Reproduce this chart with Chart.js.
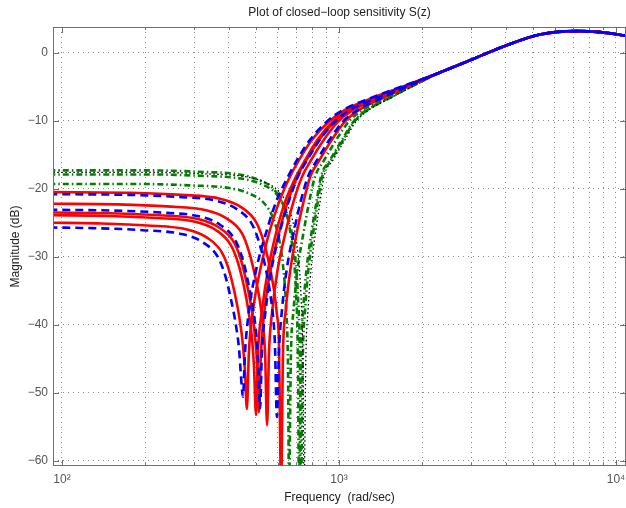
<!DOCTYPE html>
<html>
<head>
<meta charset="utf-8">
<script src="https://cdn.jsdelivr.net/npm/chart.js@4.4.0/dist/chart.umd.min.js"></script>
<style>
  html, body { margin: 0; padding: 0; background: #fff; }
</style>
</head>
<body>
<canvas id="chart" width="626" height="508"></canvas>
<script>
// axis ticks
const xTicks = [100, 200, 300, 400, 500, 600, 700, 800, 900,
                1000, 2000, 3000, 4000, 5000, 6000, 7000, 8000, 9000, 10000];
const xLabels = { 100: '10\u00b2', 1000: '10\u00b3', 10000: '10\u2074' };
const yTicks = [-60, -50, -40, -30, -20, -10, 0];

// high frequency part, every curve ends on it  [rad/s, dB]
const tail = [[2315, -2.9], [2972, -1.1], [3909, 0.9], [5317, 2.7], [7233, 3.2],
              [8750, 3.05], [10870, 2.5], [12000, 2.2]];

// blue dashed curves
const blue1 = [[90, -25.7], [129, -25.8], [196, -26.1], [273, -26.7], [323, -27.9], [366, -30.1],
  [388, -32.7], [407, -36.2], [425, -40.2], [436, -43.7], [443, -47.7], [450, -50.6],
  [458, -44], [473, -38], [502, -32], [550, -26], [592, -22], [655, -18.2], [705, -15.8],
  [786, -12.8], [905, -10.1], [1034, -8.4], [1294, -6.7], [1702, -4.9]];
const blue2 = [[90, -23.1], [149, -23.2], [226, -23.5], [315, -24.1], [372, -25.3], [421, -27.5],
  [447, -30.1], [469, -33.6], [489, -37.6], [502, -41.1], [510, -45.1], [519, -52.3],
  [527, -44], [543, -38], [570, -32], [615, -26], [657, -22], [711, -18.2], [767, -15.8],
  [853, -12.8], [968, -10.1], [1099, -8.4], [1355, -6.7], [1741, -4.9]];
const blue3 = [[90, -20.8], [172, -20.9], [260, -21.2], [363, -21.8], [428, -23.0], [485, -25.2],
  [514, -27.8], [541, -31.3], [564, -35.3], [578, -38.8], [587, -42.8], [597, -53.6],
  [607, -44], [622, -38], [647, -32], [690, -26], [726, -22], [773, -18.2], [833, -15.8],
  [924, -12.8], [1035, -10.1], [1171, -8.4], [1418, -6.7], [1777, -4.9]];

// red solid curves
const red1 = [[90, -25.0], [134, -25.1], [203, -25.4], [283, -26.0], [334, -27.2], [378, -29.4],
  [401, -32.0], [421, -35.5], [439, -39.5], [450, -43.0], [458, -47.0], [465, -52.4],
  [473, -44], [489, -38], [519, -32], [564, -26], [607, -22], [666, -18.2], [717, -15.8],
  [799, -12.8], [920, -10.1], [1051, -8.4], [1305, -6.7], [1716, -4.9]];
const red2 = [[90, -23.9], [144, -24.0], [218, -24.3], [305, -24.9], [360, -26.1], [407, -28.3],
  [432, -30.9], [454, -34.4], [473, -38.4], [485, -41.9], [493, -45.9], [502, -53.3],
  [510, -44], [527, -38], [554, -32], [597, -26], [638, -22], [700, -18.2], [754, -15.8],
  [836, -12.8], [951, -10.1], [1078, -8.4], [1338, -6.7], [1731, -4.9]];
const red3 = [[90, -23.5], [148, -23.6], [224, -23.9], [312, -24.5], [369, -25.7], [418, -27.9],
  [443, -30.5], [465, -34.0], [485, -38.0], [497, -41.5], [506, -45.5], [514, -52.9],
  [523, -44], [538, -38], [566, -32], [612, -26], [652, -22], [708, -18.2], [763, -15.8],
  [848, -12.8], [964, -10.1], [1094, -8.4], [1351, -6.7], [1738, -4.9]];
const red4 = [[90, -22.2], [158, -22.3], [239, -22.6], [334, -23.2], [394, -24.4], [447, -26.6],
  [473, -29.2], [497, -32.7], [519, -36.7], [532, -40.2], [541, -44.2], [550, -54.8],
  [559, -44], [574, -38], [600, -32], [645, -26], [684, -22], [736, -18.2], [793, -15.8],
  [882, -12.8], [995, -10.1], [1125, -8.4], [1380, -6.7], [1758, -4.9]];
const red5 = [[90, -20.5], [177, -20.6], [269, -20.9], [375, -21.5], [443, -22.7], [502, -24.9],
  [532, -27.5], [559, -31.0], [583, -35.0], [597, -38.5], [607, -42.5], [618, -64],
  [628, -44], [642, -38], [667, -32], [708, -26], [744, -22], [788, -18.2], [850, -15.8],
  [942, -12.8], [1052, -10.1], [1183, -8.4], [1434, -6.7], [1788, -4.9]];

// green dash-dot curves
const greenA = [[90, -19.3], [190, -19.3], [287, -19.5], [401, -19.9], [473, -20.7], [536, -22.1],
  [578, -24.3], [607, -27.3], [628, -31.3], [644, -37.3], [655, -47.3], [660, -64],
  [671, -44], [685, -38], [708, -32], [748, -26], [780, -22], [820, -18.2], [884, -15.8],
  [978, -12.8], [1086, -10.1], [1217, -8.4], [1467, -6.7], [1811, -4.9]];
const greenB = [[90, -17.3], [206, -17.3], [312, -17.5], [436, -17.9], [514, -18.7], [583, -20.1],
  [628, -22.3], [660, -25.3], [682, -29.3], [700, -35.3], [711, -45.3], [717, -64],
  [729, -44], [742, -38], [763, -32], [799, -26], [829, -22], [861, -18.2], [928, -15.8],
  [1026, -12.8], [1129, -10.1], [1261, -8.4], [1506, -6.7], [1835, -4.9]];
const greenC = [[90, -17.9], [210, -17.9], [318, -18.1], [443, -18.5], [523, -19.3], [592, -20.7],
  [638, -22.9], [671, -25.9], [694, -29.9], [711, -35.9], [723, -45.9], [729, -64],
  [741, -44], [754, -38], [775, -32], [810, -26], [838, -22], [870, -18.2], [937, -15.8],
  [1036, -12.8], [1138, -10.1], [1269, -8.4], [1516, -6.7], [1838, -4.9]];

// black dotted curve
const black1 = [[90, -17.6], [215, -17.6], [326, -17.8], [454, -18.2], [536, -19.0], [607, -20.4],
  [655, -22.6], [688, -25.6], [711, -29.6], [729, -35.6], [741, -45.6], [748, -64],
  [760, -44], [773, -38], [792, -32], [826, -26], [854, -22], [883, -18.2], [951, -15.8],
  [1051, -12.8], [1152, -10.1], [1283, -8.4], [1528, -6.7], [1850, -4.9]];

const styles = {
  blue:  { borderColor: '#0000ff', borderWidth: 2.6, borderDash: [8, 5] },
  red:   { borderColor: '#ff0000', borderWidth: 2.6, borderDash: [] },
  black: { borderColor: '#000000', borderWidth: 1.3, borderDash: [1.5, 2.5] },
  green: { borderColor: '#008000', borderWidth: 2.6, borderDash: [6, 3, 1.5, 3] }
};

// first dataset is painted on top
const curves = [
  [blue1, 'blue'], [blue2, 'blue'], [blue3, 'blue'],
  [red1, 'red'], [red2, 'red'], [red3, 'red'], [red4, 'red'], [red5, 'red'],
  [black1, 'black'],
  [greenA, 'green'], [greenB, 'green'], [greenC, 'green']
];

const datasets = curves.map(([pts, kind]) => Object.assign({
  data: pts.concat(tail).map(([x, y]) => ({ x, y })),
  pointRadius: 0,
  fill: false,
  cubicInterpolationMode: 'monotone',
  borderCapStyle: 'butt'
}, styles[kind]));

const fontFam = '"Liberation Sans", Arial, Helvetica, sans-serif';

// matlab style box, inner ticks and the title
const frame = {
  id: 'frame',
  afterDatasetsDraw(chart) {
    const { ctx, chartArea: a, scales: { x, y } } = chart;
    ctx.save();
    ctx.strokeStyle = '#707070';
    ctx.lineWidth = 1;
    ctx.strokeRect(a.left + 0.5, a.top + 0.5, a.right - a.left - 1, a.bottom - a.top - 1);
    ctx.beginPath();
    xTicks.forEach(v => {
      const px = Math.round(x.getPixelForValue(v)) + 0.5;
      const len = xLabels[v] ? 6 : 3;
      ctx.moveTo(px, a.bottom); ctx.lineTo(px, a.bottom - len);
      ctx.moveTo(px, a.top); ctx.lineTo(px, a.top + len);
    });
    yTicks.forEach(v => {
      const py = Math.round(y.getPixelForValue(v)) + 0.5;
      ctx.moveTo(a.left, py); ctx.lineTo(a.left + 6, py);
      ctx.moveTo(a.right, py); ctx.lineTo(a.right - 6, py);
    });
    ctx.stroke();
    ctx.fillStyle = '#222';
    ctx.font = '12px ' + fontFam;
    ctx.textAlign = 'center';
    ctx.textBaseline = 'middle';
    ctx.fillText('Plot of closed\u2212loop sensitivity S(z)', (a.left + a.right) / 2, 13);
    ctx.restore();
  }
};

new Chart(document.getElementById('chart'), {
  type: 'line',
  data: { datasets },
  plugins: [frame],
  options: {
    responsive: false,
    animation: false,
    devicePixelRatio: 1,
    layout: { padding: { top: 27, right: 0, left: 0, bottom: 0 } },
    plugins: { legend: { display: false }, tooltip: { enabled: false }, title: { display: false } },
    scales: {
      x: {
        type: 'logarithmic',
        min: 92.8,
        max: 10870,
        afterBuildTicks: s => { s.ticks = xTicks.map(v => ({ value: v })); },
        afterFit: s => { s.height = 42; s.paddingLeft = 0; s.paddingRight = 0; },
        ticks: {
          autoSkip: false,
          maxRotation: 0,
          padding: 6,
          color: '#555',
          font: { family: fontFam, size: 12 },
          callback: v => xLabels[v] || ''
        },
        grid: { color: '#8a8a8a', drawTicks: false, lineWidth: 1 },
        border: { display: false, dash: [1, 4] },
        title: {
          display: true,
          text: 'Frequency  (rad/sec)',
          color: '#222',
          font: { family: fontFam, size: 12 },
          padding: { top: 0, bottom: 3 }
        }
      },
      y: {
        type: 'linear',
        min: -60.8,
        max: 3.8,
        afterBuildTicks: s => { s.ticks = yTicks.map(v => ({ value: v })); },
        afterFit: s => { s.width = 53; s.paddingTop = 0; s.paddingBottom = 0; },
        ticks: {
          padding: 5,
          color: '#555',
          font: { family: fontFam, size: 12 },
          callback: v => (v < 0 ? '\u2212' + Math.abs(v) : String(v))
        },
        grid: { color: '#8a8a8a', drawTicks: false, lineWidth: 1 },
        border: { display: false, dash: [1, 4] },
        title: {
          display: true,
          text: 'Magnitude (dB)',
          color: '#222',
          font: { family: fontFam, size: 12 },
          padding: { top: 8, bottom: 0 }
        }
      }
    }
  }
});
</script>
</body>
</html>
